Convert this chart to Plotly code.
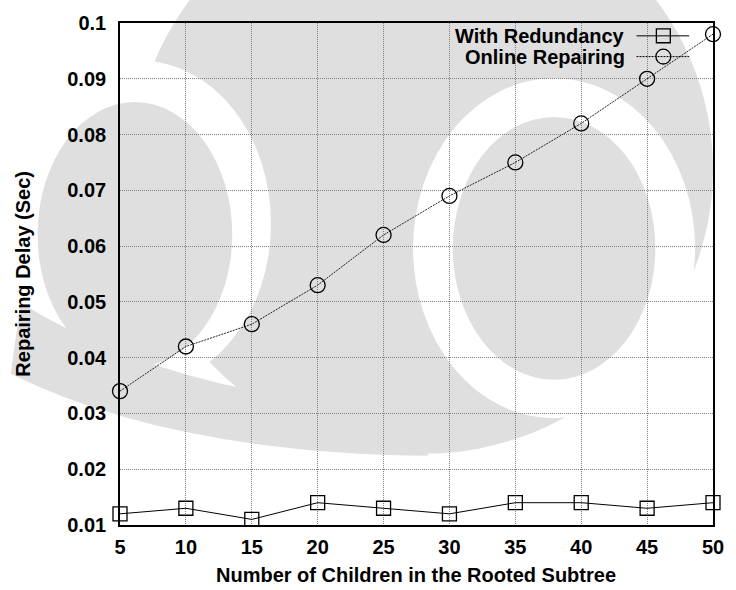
import plotly.graph_objects as go

# Measured repair delays (seconds) versus subtree size
children = [5, 10, 15, 20, 25, 30, 35, 40, 45, 50]
with_redundancy = [0.012, 0.013, 0.011, 0.014, 0.013, 0.012, 0.014, 0.014, 0.013, 0.014]
online_repairing = [0.034, 0.042, 0.046, 0.053, 0.062, 0.069, 0.075, 0.082, 0.090, 0.098]

series_names = ["With Redundancy", "Online Repairing"]
y_ticks = [0.01, 0.02, 0.03, 0.04, 0.05, 0.06, 0.07, 0.08, 0.09, 0.1]
y_tick_text = ["0.01", "0.02", "0.03", "0.04", "0.05", "0.06", "0.07", "0.08", "0.09", "0.1"]
x_ticks = children
x_title = "Number of Children in the Rooted Subtree"
y_title = "Repairing Delay (Sec)"

# Figure geometry (pixels)
W, H = 736, 590
L, R, T, B = 120, 19, 17, 65
PW, PH = W - L - R, H - T - B

FONT = "Liberation Sans, Arial, Helvetica, sans-serif"
GRAY_WM = "#dfdfdf"


def px(x):
    return (x - L) / PW


def py(y):
    return (H - B - y) / PH


def ellipse(cx, cy, rx, ry, color):
    return dict(type="circle", xref="paper", yref="paper", layer="below",
                x0=px(cx - rx), x1=px(cx + rx), y0=py(cy + ry), y1=py(cy - ry),
                fillcolor=color, line=dict(width=0))


def band_path(points):
    # points: list of (cmd, x, y, ...) in pixel space -> SVG path in paper space
    out = []
    for seg in points:
        cmd, coords = seg[0], seg[1:]
        vals = []
        for i in range(0, len(coords), 2):
            vals.append(f"{px(coords[i]):.4f},{py(coords[i + 1]):.4f}")
        out.append(cmd + " " + " ".join(vals))
    return " ".join(out) + " Z"


fig = go.Figure()

fig.add_trace(go.Scatter(
    x=children, y=with_redundancy, name=series_names[0], mode="lines+markers",
    line=dict(color="black", width=1),
    marker=dict(symbol="square-open", size=14, color="black", line=dict(width=1.3)),
    cliponaxis=False, showlegend=False,
))
fig.add_trace(go.Scatter(
    x=children, y=online_repairing, name=series_names[1], mode="lines+markers",
    line=dict(color="#222222", width=1, dash="2px,1px"),
    marker=dict(symbol="circle-open", size=15, color="black", line=dict(width=1.3)),
    cliponaxis=False, showlegend=False,
))

axis_common = dict(
    showline=True, mirror=True, linecolor="black", linewidth=1.6,
    showgrid=True, gridcolor="#808080", gridwidth=1, griddash="1px,1px",
    zeroline=False, ticks="",
    tickfont=dict(family=FONT, size=20, color="black", weight="bold"),
)

fig.update_xaxes(range=[5, 50], tickvals=x_ticks, ticklabelstandoff=3, **axis_common)
fig.update_yaxes(range=[0.01, 0.1], tickvals=y_ticks, ticktext=y_tick_text,
                 ticklabelstandoff=8, **axis_common)

# Light background emblem
shapes = [
    ellipse(425, 165, 292, 288, GRAY_WM),
    ellipse(557, 245, 142, 172, "white"),
    ellipse(557, 245, 102, 133, GRAY_WM),
    ellipse(140, 220, 132, 165, "white"),
    dict(type="path", xref="paper", yref="paper", layer="below",
         path=band_path([("M", 20, 300), ("Q", 170, 395, 420, 410),
                         ("L", 430, 455), ("Q", 170, 452, 10, 372)]),
         fillcolor=GRAY_WM, line=dict(width=0)),
    ellipse(135, 231, 98, 134, GRAY_WM),
]

# Key: right-aligned labels with line/marker samples on the right
key_rows = [(30, "solid", "rect"), (51, "2px,1px", "circle")]
annotations = []
for (yk, dash, mk), name in zip(key_rows, series_names):
    annotations.append(dict(
        x=px(630), y=py(yk), xref="paper", yref="paper", xanchor="right", yanchor="middle",
        text=name, showarrow=False,
        font=dict(family=FONT, size=20, color="black", weight="bold"),
    ))
    shapes.append(dict(type="line", xref="paper", yref="paper",
                       x0=px(640), x1=px(693), y0=py(yk), y1=py(yk),
                       line=dict(color="black", width=1, dash=dash)))
    r = 7 if mk == "rect" else 7.5
    shapes.append(dict(type=mk, xref="paper", yref="paper",
                       x0=px(667 - r), x1=px(667 + r), y0=py(yk + r), y1=py(yk - r),
                       line=dict(color="black", width=1.3)))

annotations.append(dict(
    x=px(418), y=py(576), xref="paper", yref="paper", xanchor="center", yanchor="middle",
    text=x_title, showarrow=False,
    font=dict(family=FONT, size=20, color="black", weight="bold"),
))
annotations.append(dict(
    x=px(22), y=py(271), xref="paper", yref="paper", xanchor="center", yanchor="middle",
    text=y_title, showarrow=False, textangle=-90,
    font=dict(family=FONT, size=20, color="black", weight="bold"),
))

fig.update_layout(
    width=W, height=H,
    margin=dict(l=L, r=R, t=T, b=B, pad=0),
    paper_bgcolor="white", plot_bgcolor="rgba(0,0,0,0)",
    shapes=shapes, annotations=annotations, showlegend=False,
)

fig.write_html("out.html")
